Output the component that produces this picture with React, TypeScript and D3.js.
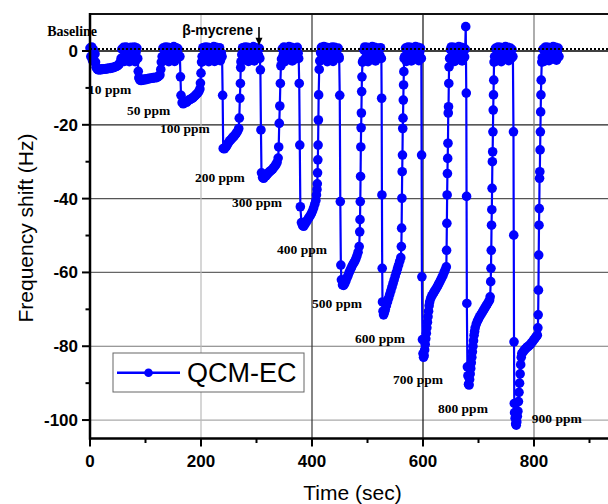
import React from 'react';
import * as d3 from 'd3';

type P = [number, number];

const xTicks = [0, 200, 400, 600, 800];
const xMinor = [100, 300, 500, 700, 900];
const yTicks = [0, -20, -40, -60, -80, -100];
const yMinor = [-10, -30, -50, -70, -90];

const baseline0: P[] = [[0,0.8],[1.5,-1.5],[3,1.1],[4.5,-2.6],[6,0.4],[7.5,-2.9],[9,-0.8]];
const plateau10: P[] = [[10,-3],[11,-4.4],[13,-4.9],[15,-5.1],[17,-4.9],[19,-5.1],[21,-4.8],[23,-5],[25,-4.9],[27,-4.8],[29,-4.9],[31,-4.7],[33,-4.8],[35,-4.6],[37,-4.7],[39,-4.5],[41,-4.6],[43,-4.4],[45,-4.3],[47,-4.2],[49,-4],[51,-3.8],[53,-3.5],[54.5,-3]];
const baseline1: P[] = [[56,-2],[57.5,0.5],[59,-1.8],[60.5,1],[62,-2.8],[63.5,0.2],[65,1.1],[66.5,-2.2],[68,-0.5],[69.5,0.9],[71,-2.9],[72.5,-1],[74,1],[75.5,-2.4],[77,0.4],[78.5,-1.6],[80,1.1],[81.5,-2.9],[83,-0.3],[84.5,0.8]];
const plateau50: P[] = [[86,-2],[87,-5.5],[88,-7.3],[90,-7.9],[92,-8],[94,-7.7],[96,-7.9],[98,-7.6],[100,-7.8],[102,-7.5],[104,-7.6],[106,-7.4],[108,-7.5],[110,-7.3],[112,-7.4],[114,-7.2],[116,-7.3],[118,-7.1],[120,-7.2],[122,-7],[124,-6.8],[126,-6.5],[127.5,-5],[128.5,-3]];
const baseline2: P[] = [[130,-1.5],[131.5,0.8],[133,-2.6],[134.5,0.3],[136,1.1],[137.5,-1.9],[139,-0.4],[140.5,1],[142,-2.9],[143.5,-0.8],[145,0.9],[146.5,-2.2],[148,0.4],[149.5,-1.3],[151,1.2],[152.5,-2.8],[154,-0.2],[155.5,0.9],[157,-2],[158.5,0.6],[160,-1.2]];
const plateau100: P[] = [[162,-1.5],[163,-7],[164,-12],[166,-14],[168,-14.3],[170,-14],[172,-13.8],[174,-13.9],[176,-13.5],[178,-13.3],[180,-13.2],[182,-13],[184,-12.8],[186,-12.6],[188,-12.3],[190,-12],[192,-11.7],[194,-11.4],[196,-11],[198,-10.3],[199,-8.7],[200,-6],[201,-3]];
const baseline3: P[] = [[202,-1.5],[203.5,0.9],[205,-2.7],[206.5,0.2],[208,1.1],[209.5,-1.7],[211,-0.3],[212.5,1],[214,-2.9],[215.5,-0.6],[217,0.8],[218.5,-2.1],[220,0.5],[221.5,-1.2],[223,1.2],[224.5,-2.8],[226,-0.1],[227.5,1],[229,-2.3],[230.5,0.4],[232,-1],[233.5,0.9],[235,-2.6],[236.5,-0.5]];
const plateau200: P[] = [[238,-1.5],[239,-12],[240,-26.4],[242,-26.5],[244,-26.2],[246,-25.8],[248,-25.2],[250,-24.7],[252,-24.3],[254,-24],[256,-23.6],[258,-23.3],[260,-23],[262,-22.6],[264,-22.2],[266,-21.7],[268,-21],[269,-18.2],[270,-12.8],[271,-8.8],[271.5,-4.5]];
const baseline4: P[] = [[272,-2.9],[273.5,-1],[275,0.9],[276.5,-2.3],[278,0.4],[279.5,1.1],[281,-1.8],[282.5,-0.2],[284,1],[285.5,-2.8],[287,-0.7],[288.5,0.8],[290,-2.1],[291.5,0.6],[293,-1.4],[294.5,1.2],[296,-2.7],[297.5,0],[299,0.9],[300.5,-1.9],[302,0.5],[303.5,-1.1],[305,0.7]];
const plateau300: P[] = [[306,-2],[307,-5.1],[308,-21.4],[309,-33],[311,-34.3],[313,-34.5],[315,-34],[317,-33.8],[319,-33.5],[321,-33],[323,-32.8],[325,-32.5],[327,-32.3],[329,-32],[331,-31.6],[333,-31.2],[335,-30.8],[337,-30.2],[339,-29],[340,-26],[341,-19.6],[342,-14.9],[343,-8.8],[344,-4]];
const baseline5: P[] = [[345,-2.2],[346.5,0.6],[348,-1.2],[349.5,1.1],[351,-2.9],[352.5,-0.4],[354,0.9],[355.5,-2],[357,0.3],[358.5,1.2],[360,-1.6],[361.5,-0.1],[363,1],[364.5,-2.7],[366,-0.8],[367.5,0.8],[369,-2.2],[370.5,0.5],[372,-1.3],[373.5,1],[375,-0.6]];
const plateau400: P[] = [[376,-2],[377,-8.8],[378,-25.5],[379,-42.2],[381,-46.5],[383,-47.3],[385,-47.5],[387,-47],[389,-46.5],[391,-46],[393,-45.5],[395,-45],[397,-44.6],[399,-44],[401,-43.3],[403,-42.5],[405,-41.5],[407,-40.5],[408,-39],[409,-37.5],[409.5,-36],[410,-33],[410.5,-29.5],[411,-25.5],[411.5,-18.7],[412,-11.9],[413,-5]];
const baseline6: P[] = [[414,-2.7],[415.5,-0.5],[417,1],[418.5,-2],[420,0.4],[421.5,1.2],[423,-1.5],[424.5,-0.2],[426,1],[427.5,-2.9],[429,-0.6],[430.5,0.9],[432,-2.3],[433.5,0.5],[435,-1.1],[436.5,1.1],[438,-2.8],[439.5,0.1],[441,1],[442.5,-1.8],[444,0.6],[445.5,-1.2],[447,0.8],[448.5,-1.5]];
const plateau500: P[] = [[449,-2],[450,-12],[451,-40.8],[452,-58],[453,-62],[455,-63.4],[457,-63.5],[459,-63],[461,-62.3],[463,-61.5],[465,-60.8],[467,-60],[469,-59.3],[471,-58.7],[473,-58],[475,-57.5],[477,-57],[479,-56.3],[481,-55.5],[483,-54.5],[485,-53],[486,-49],[486.5,-45.7],[487,-40.8],[487.5,-34],[488,-26],[488.5,-20.8],[489,-16.8],[489.5,-11],[490,-7],[491,-3]];
const baseline7: P[] = [[492,-2.6],[493.5,0.3],[495,1.1],[496.5,-1.9],[498,-0.3],[499.5,1],[501,-2.9],[502.5,-0.5],[504,0.9],[505.5,-2.2],[507,0.5],[508.5,1.2],[510,-1.4],[511.5,0],[513,1],[514.5,-2.7],[516,-0.7],[517.5,0.8],[519,-2],[520.5,0.6],[522,-1.1],[523.5,0.9]];
const plateau600: P[] = [[525,-2],[525.5,-12.8],[526,-39],[526.5,-58.9],[527,-68],[528,-70.5],[529,-71.5],[530,-71],[531,-70.5],[532,-70],[534,-69],[536,-68],[538,-67],[540,-66],[542,-65],[544,-64],[546,-63],[548,-62],[550,-61],[552,-60],[554,-59],[556,-58],[558,-57],[560,-56],[561,-53],[561.5,-48],[562,-39.9],[562.5,-32.7],[563,-28.2],[563.5,-21],[564,-18.2],[564.5,-13.3],[565,-9.2],[565.5,-5.6],[566,-2]];
const baseline8: P[] = [[567,-1.5],[568.5,0.8],[570,-2.8],[571.5,0.2],[573,1.1],[574.5,-1.8],[576,-0.4],[577.5,1],[579,-2.7],[580.5,-0.7],[582,0.9],[583.5,-2.2],[585,0.4],[586.5,1.2],[588,-1.3],[589.5,0],[591,1],[592.5,-2.6],[594,-0.3],[595.5,0.8]];
const plateau700: P[] = [[597,-2],[597.5,-28.2],[598,-61.2],[599,-78.2],[600,-82],[601,-83],[602,-82.5],[603,-81],[604,-79.5],[605,-78],[606,-76.5],[607,-75],[608,-73.5],[609,-72],[610,-70.5],[611,-69],[612,-68],[614,-67],[616,-66.3],[618,-65.8],[620,-65.3],[622,-64.8],[624,-64.3],[626,-63.8],[628,-63.2],[630,-62.6],[632,-62],[634,-61.4],[636,-60.8],[638,-60],[640,-59.3],[642,-58.5],[642.5,-54],[643,-46.7],[643.5,-39],[644,-33.2],[644.5,-29.1],[645,-25],[645.5,-16.8],[646,-15.1],[646.5,-8.8],[647,-4.3]];
const baseline9: P[] = [[648,-2],[649.5,0.4],[651,1.1],[652.5,-1.7],[654,-0.2],[655.5,1],[657,-2.8],[658.5,-0.6],[660,0.9],[661.5,-2.3],[663,0.5],[664.5,1.2],[666,-1.4],[667.5,0.1],[669,1],[670.5,-2.7],[672,-0.5],[673.5,0.8],[675,-1.6]];
const plateau800: P[] = [[676,0.5],[677,6.6],[678,-11.4],[678.5,-39.4],[679,-68.4],[680,-85.6],[681,-88],[682,-90.3],[683,-90.5],[684,-89],[685,-87.5],[686,-86],[687,-84.5],[688,-83],[689,-81.5],[690,-80],[691,-78.5],[692,-77],[693,-76],[694,-75],[696,-74],[698,-73.2],[700,-72.6],[702,-72],[704,-71.5],[706,-71],[708,-70.5],[710,-70],[712,-69.5],[714,-69],[716,-68.5],[718,-68],[720,-67.5],[721,-66.6],[722,-62.5],[722.5,-58.9],[723,-54],[723.5,-47.2],[724,-43],[724.5,-37.2],[725,-30],[725.5,-27.3],[726,-21.9],[726.5,-16],[727,-11.9],[727.5,-7.9],[728,-3]];
const baseline10: P[] = [[729,-1.5],[730.5,0.7],[732,-2.7],[733.5,0.3],[735,1.1],[736.5,-1.9],[738,-0.3],[739.5,1],[741,-2.9],[742.5,-0.6],[744,0.9],[745.5,-2.1],[747,0.5],[748.5,1.2],[750,-1.4],[751.5,0],[753,1],[754.5,-2.6],[756,-0.5],[757.5,0.8],[759,-2],[760.5,0.4]];
const plateau900: P[] = [[762,-1.5],[763,-21.9],[763.5,-49.9],[764,-78.8],[764.5,-95.5],[765,-98],[766,-99.5],[767,-101],[768,-101.4],[769,-100.5],[770,-99],[771,-97.6],[772,-95],[773,-92.5],[774,-90],[775,-87.5],[776,-85],[777,-83],[778,-82],[780,-81.6],[782,-81.2],[784,-80.8],[786,-80.5],[788,-80.2],[790,-80],[792,-79.7],[794,-79.4],[796,-79],[798,-78.6],[800,-78.2],[802,-77.8],[804,-77.4],[806,-77],[807,-75],[807.5,-71.5],[808,-64.8],[808.5,-55.3],[809,-47.2],[809.5,-42.7],[810,-34.5],[810.5,-32.7],[811,-26.8],[811.5,-21.9],[812,-16.5],[812.5,-11.9],[813,-7.9],[814,-3]];
const baseline11: P[] = [[815,-1.8],[816.5,0.5],[818,-2.8],[819.5,0.2],[821,1.1],[822.5,-1.7],[824,-0.4],[825.5,1],[827,-2.6],[828.5,-0.6],[830,0.9],[831.5,-2.2],[833,0.4],[834.5,1.2],[836,-1.2],[837.5,0],[839,1],[840.5,-2.5],[842,-0.5],[843.5,0.8],[845,-1.5]];

const concentrations = ['10 ppm', '50 ppm', '100 ppm', '200 ppm', '300 ppm', '400 ppm', '500 ppm', '600 ppm', '700 ppm', '800 ppm', '900 ppm'];
// annotation anchors in data units (time, shift)
const labelAnchors: P[] = [[-3.6, -11.7], [66.7, -17.4], [126, -22.3], [189, -35.6], [256, -42.4], [337, -54.9], [400, -69.7], [477.5, -79.2], [546, -90.3], [627, -98.2], [796, -100.7]];

const seriesName = 'QCM-EC';

const BLUE = '#0000ff';
const SANS = '"Liberation Sans", Arial, sans-serif';
const SERIF = '"Liberation Serif", "Times New Roman", serif';

export default function App() {
  const W = 608, H = 504;
  const L = 90, T = 14.1, B = 438.5;
  const x = d3.scaleLinear().domain([0, 950]).range([L, 617.25]);
  const y = d3.scaleLinear().domain([-105, 10]).range([B, T]);

  const data: P[] = [
    ...baseline0, ...plateau10, ...baseline1, ...plateau50, ...baseline2, ...plateau100,
    ...baseline3, ...plateau200, ...baseline4, ...plateau300, ...baseline5, ...plateau400,
    ...baseline6, ...plateau500, ...baseline7, ...plateau600, ...baseline8, ...plateau700,
    ...baseline9, ...plateau800, ...baseline10, ...plateau900, ...baseline11,
  ];
  const line = d3.line<P>().x(d => x(d[0])).y(d => y(d[1]));

  const hGridColor: Record<number, string> = { [-20]: '#222', [-40]: '#555', [-60]: '#666', [-80]: '#777', [-100]: '#aaa' };
  const vGridColor: Record<number, string> = { 200: '#bbb', 400: '#333', 600: '#111', 800: '#777' };

  const arrowT = 304.5;

  return (
    <svg width={W} height={H} style={{ position: 'absolute', left: 0, top: 0, background: '#fff' }}>
      <rect x={0} y={0} width={W} height={H} fill="#fff" />
      {/* grid */}
      {yTicks.filter(v => v !== 0).map(v => (
        <line key={'hg' + v} x1={L} x2={W} y1={y(v)} y2={y(v)} stroke={hGridColor[v]} strokeWidth={1.2} />
      ))}
      {xTicks.filter(t => t !== 0).map(t => (
        <line key={'vg' + t} x1={x(t)} x2={x(t)} y1={T} y2={B} stroke={vGridColor[t]} strokeWidth={1.2} />
      ))}
      <line x1={L} x2={W} y1={y(0)} y2={y(0)} stroke="#000" strokeWidth={1.5} />

      {/* data */}
      <path d={line(data) || ''} fill="none" stroke={BLUE} strokeWidth={2.2} />
      {data.map((d, i) => (
        <circle key={i} cx={x(d[0])} cy={y(d[1])} r={4.8} fill={BLUE} />
      ))}

      {/* dotted zero line */}
      <line x1={L} x2={W} y1={y(0) - 2} y2={y(0) - 2} stroke="#000" strokeWidth={2} strokeDasharray="2,2" />

      {/* annotations */}
      <text x={x(-77)} y={y(4)} fontFamily={SERIF} fontWeight="bold" fontSize={14}>Baseline</text>
      <text x={x(166)} y={y(4.3)} fontFamily={SANS} fontWeight="bold" fontSize={14}>β-mycrene</text>
      <line x1={x(arrowT)} x2={x(arrowT)} y1={y(6.5)} y2={y(3.2)} stroke="#000" strokeWidth={1.6} />
      <path d={`M${x(arrowT) - 3.5},${y(3.6)} L${x(arrowT) + 3.5},${y(3.6)} L${x(arrowT)},${y(1.5)} Z`} fill="#000" />
      {concentrations.map((c, i) => (
        <text key={c} x={x(labelAnchors[i][0])} y={y(labelAnchors[i][1])} fontFamily={SERIF} fontWeight="bold" fontSize={13.5}>{c}</text>
      ))}

      {/* frame / axes */}
      <line x1={L} x2={W} y1={T} y2={T} stroke="#111" strokeWidth={2} />
      <line x1={L} x2={W} y1={B} y2={B} stroke="#000" strokeWidth={2.5} />
      <line x1={L} x2={L} y1={T - 1} y2={B + 1.2} stroke="#000" strokeWidth={2.5} />
      {yTicks.map(v => (
        <g key={'yt' + v}>
          <line x1={L - 8} x2={L} y1={y(v)} y2={y(v)} stroke="#000" strokeWidth={2} />
          <text x={78} y={y(v) + 6} textAnchor="end" fontFamily={SANS} fontWeight="bold" fontSize={17}>{v}</text>
        </g>
      ))}
      {yMinor.map(v => (
        <line key={'ym' + v} x1={L - 4.5} x2={L} y1={y(v)} y2={y(v)} stroke="#000" strokeWidth={2} />
      ))}
      {xTicks.map(t => (
        <g key={'xt' + t}>
          <line x1={x(t)} x2={x(t)} y1={B} y2={B + 8} stroke="#000" strokeWidth={2} />
          <text x={x(t)} y={467} textAnchor="middle" fontFamily={SANS} fontWeight="bold" fontSize={17}>{t}</text>
        </g>
      ))}
      {xMinor.map(t => (
        <line key={'xm' + t} x1={x(t)} x2={x(t)} y1={B} y2={B + 4.5} stroke="#000" strokeWidth={2} />
      ))}

      {/* axis titles */}
      <text x={352.5} y={500} textAnchor="middle" fontFamily={SANS} fontSize={21}>Time (sec)</text>
      <text transform={`translate(33,228) rotate(-90)`} textAnchor="middle" fontFamily={SANS} fontSize={21}>Frequency shift (Hz)</text>

      {/* legend */}
      <rect x={113} y={353} width={191} height={39} fill="#fff" stroke="#666" strokeWidth={1} />
      <line x1={117} x2={180} y1={372.7} y2={372.7} stroke={BLUE} strokeWidth={2.5} />
      <circle cx={148.5} cy={372.7} r={4.3} fill={BLUE} />
      <text x={187} y={382} fontFamily={SANS} fontSize={27}>{seriesName}</text>
    </svg>
  );
}
